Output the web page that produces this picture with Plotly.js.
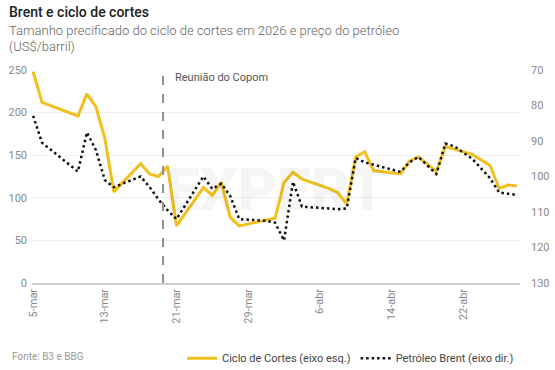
<!DOCTYPE html>
<html>
<head>
<meta charset="utf-8">
<script src="https://cdn.plot.ly/plotly-3.0.1.min.js"></script>
<style>
  html, body { margin: 0; padding: 0; background: #fff; }
  #chart { width: 555px; height: 370px; }
</style>
</head>
<body>
<div id="chart"></div>
<script>
// Ciclo de Cortes (left axis, bps)
const cicloDatas = ['2026-03-05','2026-03-06','2026-03-10','2026-03-11','2026-03-12','2026-03-13','2026-03-14',
  '2026-03-17','2026-03-18','2026-03-19','2026-03-20','2026-03-21',
  '2026-03-24','2026-03-25','2026-03-26','2026-03-27','2026-03-28',
  '2026-04-01','2026-04-02','2026-04-03','2026-04-04',
  '2026-04-07','2026-04-08','2026-04-09','2026-04-10','2026-04-11','2026-04-12',
  '2026-04-15','2026-04-16','2026-04-17','2026-04-19','2026-04-20',
  '2026-04-23','2026-04-25','2026-04-26','2026-04-27','2026-04-28'];
const ciclo = [248,212,196,222,207,170,107,
  140,128,125,137,67,
  112,103,118,77,67,
  76,118,130,122,
  111,106,93,148,154,132,
  128,143,148,131,160,
  151,138,111,115,114];

// Petróleo Brent (right axis, reversed, US$/barril)
const brentDatas = ['2026-03-05','2026-03-06','2026-03-10','2026-03-11','2026-03-12','2026-03-13','2026-03-14',
  '2026-03-17','2026-03-18','2026-03-19','2026-03-20','2026-03-21',
  '2026-03-24','2026-03-25','2026-03-26','2026-03-27','2026-03-28',
  '2026-03-31','2026-04-01','2026-04-02','2026-04-03','2026-04-04',
  '2026-04-07','2026-04-08','2026-04-09','2026-04-10','2026-04-11',
  '2026-04-15','2026-04-16','2026-04-17',
  '2026-04-19','2026-04-20','2026-04-21',
  '2026-04-23','2026-04-25','2026-04-26','2026-04-28'];
const brent = [82.9,90.5,98.6,87.6,92.5,101,103,
  100,103,106.5,109.5,112,
  100,103.5,102,105.5,112,
  112.5,113,118,101.5,108.5,
  109,109.2,109,94.8,96,
  98.7,96,94.5,
  99.3,90.7,91.5,
  95,100.5,104.5,105.2];

const xTickVals = ['2026-03-05','2026-03-13','2026-03-21','2026-03-29','2026-04-06','2026-04-14','2026-04-22'];
const xTickText = ['5-mar','13-mar','21-mar','29-mar','6-abr','14-abr','22-abr'];
const yLeftTicks = [0,50,100,150,200,250];
const yRightTicks = [70,80,90,100,110,120,130];

const copomData = '2026-03-19 12:00';
const copomLabel = 'Reunião do Copom';

const titulo = 'Brent e ciclo de cortes';
const subtitulo1 = 'Tamanho precificado do ciclo de cortes em 2026 e preço do petróleo';
const subtitulo2 = '(US$/barril)';
const fonte = 'Fonte: B3 e BBG';

const traces = [
  {
    x: cicloDatas, y: ciclo, type: 'scatter', mode: 'lines',
    name: 'Ciclo de Cortes (eixo esq.)',
    line: { color: '#F2C01E', width: 3 },
    yaxis: 'y'
  },
  {
    x: brentDatas, y: brent, type: 'scatter', mode: 'lines',
    name: 'Petróleo Brent (eixo dir.)',
    line: { color: '#111111', width: 2.5, dash: '2.5px,3px' },
    yaxis: 'y2'
  }
];

const tickFont = { family: 'Roboto, sans-serif', size: 11, color: '#8a8a8a' };

const layout = {
  width: 555, height: 370,
  margin: { l: 32, r: 35, t: 70, b: 87 },
  paper_bgcolor: '#ffffff', plot_bgcolor: '#ffffff',
  font: { family: 'Roboto, sans-serif', color: '#555' },
  showlegend: true,
  legend: {
    orientation: 'h', xref: 'container', yref: 'container',
    x: 0.328, y: 0.032, xanchor: 'left', yanchor: 'middle',
    font: { family: 'Roboto, sans-serif', size: 11, color: '#444' },
    bgcolor: 'rgba(0,0,0,0)', itemclick: false
  },
  xaxis: {
    type: 'date',
    range: ['2026-03-04 21:00', '2026-04-28 08:00'],
    tickmode: 'array', tickvals: xTickVals, ticktext: xTickText,
    tickangle: -90, tickfont: tickFont,
    showgrid: false, zeroline: false,
    showline: true, linecolor: '#d0d0d0', linewidth: 1.5,
    ticks: '', ticklen: 0
  },
  yaxis: {
    range: [0, 250], tickmode: 'array', tickvals: yLeftTicks,
    tickfont: tickFont, showgrid: true, gridcolor: '#eeeeee', gridwidth: 1,
    zeroline: false, showline: false, ticks: '', ticklabelstandoff: 4
  },
  yaxis2: {
    overlaying: 'y', side: 'right',
    range: [130, 70], tickmode: 'array', tickvals: yRightTicks,
    tickfont: tickFont, showgrid: false, zeroline: false, showline: false, ticks: '',
    ticklabelstandoff: 10
  },
  shapes: [
    {
      type: 'line', xref: 'x', yref: 'paper',
      x0: copomData, x1: copomData, y0: 0, y1: 1.01,
      line: { color: '#8f8f8f', width: 2, dash: 'dash' }
    }
  ],
  annotations: [
    {
      text: 'EXPERT', xref: 'paper', yref: 'paper', x: 0.5, y: 0.44, xanchor: 'center', yanchor: 'middle',
      showarrow: false,
      font: { family: 'Roboto, sans-serif', size: 60, color: 'rgba(0,0,0,0.04)', weight: 900 }
    },
    {
      text: titulo, xref: 'paper', yref: 'paper', x: -0.052, y: 1.0, xanchor: 'left', yanchor: 'bottom',
      yshift: 48, showarrow: false,
      font: { family: 'Roboto, sans-serif', size: 14, color: '#222', weight: 500 }
    },
    {
      text: subtitulo1, xref: 'paper', yref: 'paper', x: -0.052, y: 1.0, xanchor: 'left', yanchor: 'bottom',
      yshift: 30, showarrow: false,
      font: { family: 'Roboto, sans-serif', size: 13, color: '#666', weight: 300 }
    },
    {
      text: subtitulo2, xref: 'paper', yref: 'paper', x: -0.052, y: 1.0, xanchor: 'left', yanchor: 'bottom',
      yshift: 14, showarrow: false,
      font: { family: 'Roboto, sans-serif', size: 13, color: '#666', weight: 300 }
    },
    {
      text: copomLabel, xref: 'x', yref: 'paper', x: copomData, y: 0.965, xanchor: 'left', yanchor: 'middle',
      xshift: 10, showarrow: false,
      font: { family: 'Roboto, sans-serif', size: 11, color: '#555' }
    },
    {
      text: fonte, xref: 'paper', yref: 'paper', x: -0.045, y: -0.347, xanchor: 'left', yanchor: 'middle',
      showarrow: false,
      font: { family: 'Roboto, sans-serif', size: 10, color: '#9a9a9a' }
    }
  ]
};

Plotly.newPlot('chart', traces, layout, { displayModeBar: false, staticPlot: true });
</script>
</body>
</html>
